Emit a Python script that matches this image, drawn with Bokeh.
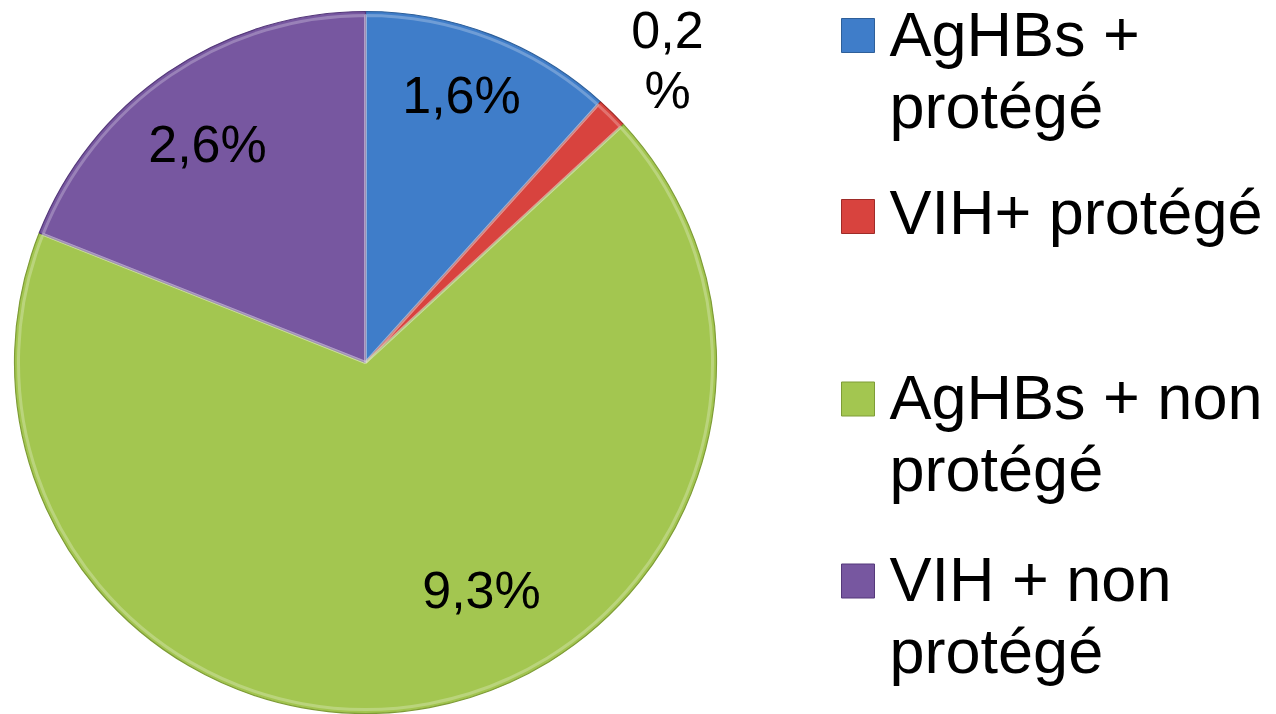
import math
from bokeh.plotting import figure
from bokeh.models import Range1d, ColumnDataSource
from bokeh.core.properties import value
from bokeh.embed import file_html
from bokeh.resources import INLINE

# ---- data ----
categories = ["AgHBs + protégé", "VIH+ protégé", "AgHBs + non protégé", "VIH + non protégé"]
values = [1.6, 0.2, 9.3, 2.6]
value_labels = ["1,6%", "0,2\n%", "9,3%", "2,6%"]
legend_lines = [["AgHBs +", "protégé"], ["VIH+ protégé"], ["AgHBs + non", "protégé"], ["VIH + non", "protégé"]]
colors = ["#3F7DC9", "#D8433E", "#A3C650", "#7757A0"]
edge_colors = ["#2E5F99", "#9E2B28", "#7E9C36", "#55397A"]

# ---- layout (pixels) ----
W, H = 1276, 714
cx, cy, R = 365, 352, 351
# label offsets relative to pie centre (placement chosen like the original)
label_offsets = [(96, 249), (302, 314), (116, -246), (-158, 200)]
line_gap = 60
legend_shift = -4
legend_sq_x = 857.5
legend_sq_y = [683, 502, 319.5, 137.5]
legend_text_x = 889
legend_first_baseline = [662, 484, 299, 117]
legend_line_h = 72
label_fs, legend_fs = 52, 63
mid_fix = 0.36  # text is anchored at its vertical middle: baseline + mid_fix * size

p = figure(width=W, height=H, x_range=Range1d(0, W), y_range=Range1d(0, H),
           output_backend="svg", toolbar_location=None, min_border=0)
p.axis.visible = False
p.xgrid.visible = False
p.ygrid.visible = False
p.outline_line_color = None
p.background_fill_color = "white"
p.border_fill_color = "white"

total = sum(values)
starts, ends = [], []
cum = 0.0
for v in values:
    a0 = math.pi / 2 - 2 * math.pi * cum / total
    cum += v
    a1 = math.pi / 2 - 2 * math.pi * cum / total
    starts.append(a0)
    ends.append(a1)

src = ColumnDataSource(dict(start=starts, end=ends, color=colors, edge=edge_colors))
p.wedge(x=cx, y=cy, radius=R, start_angle="start", end_angle="end", direction="clock",
        fill_color="color", line_color="edge", line_width=1.2, source=src)
# soft highlight along the inner edges
p.wedge(x=cx, y=cy, radius=R - 4, start_angle="start", end_angle="end", direction="clock",
        fill_color=None, line_color="white", line_alpha=0.25, line_width=3, source=src)

font = value("Liberation Sans")
# value labels
for lab, (dx, dy) in zip(value_labels, label_offsets):
    for k, line in enumerate(lab.split("\n")):
        p.text(x=[cx + dx], y=[cy + dy - k * line_gap + mid_fix * label_fs], text=[line],
               text_font=font, text_font_size=f"{label_fs}px", text_align="center",
               text_baseline="middle", text_color="black")

# legend
p.rect(x=[legend_sq_x] * 4, y=[v + legend_shift for v in legend_sq_y], width=33, height=34,
       fill_color=colors, line_color=edge_colors, line_width=1)
for lines, b in zip(legend_lines, legend_first_baseline):
    for k, line in enumerate(lines):
        p.text(x=[legend_text_x], y=[b + legend_shift - k * legend_line_h + mid_fix * legend_fs],
               text=[line], text_font=font, text_font_size=f"{legend_fs}px", text_align="left",
               text_baseline="middle", text_color="black")

open("out.html", "w").write(file_html(p, INLINE))
